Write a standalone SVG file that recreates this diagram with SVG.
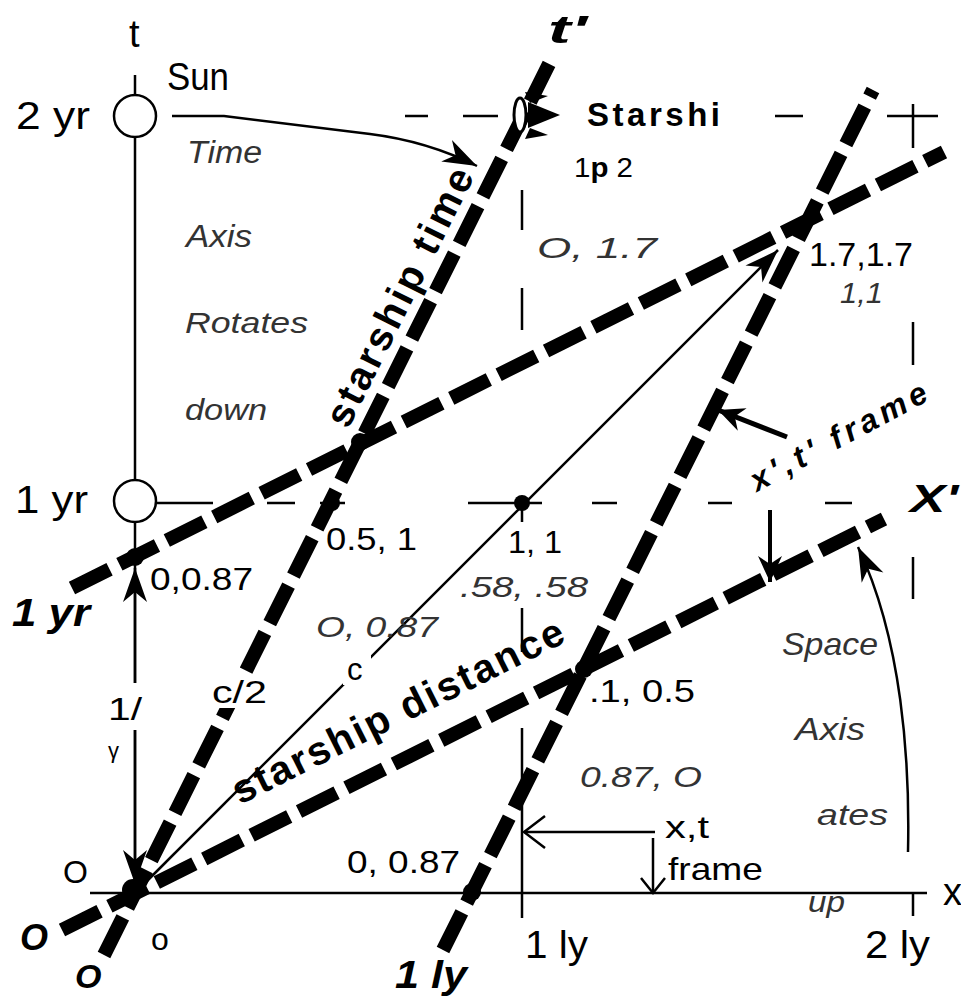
<svg xmlns="http://www.w3.org/2000/svg" width="961" height="997" viewBox="0 0 961 997">
<style>
text{font-family:"Liberation Sans",Arial,sans-serif;fill:#000}
.it{font-style:italic;fill:#333}
.bi{font-style:italic;font-weight:bold}
.b{font-weight:bold}
.heavy{stroke:#000;stroke-width:14;stroke-dasharray:42 11;fill:none}
.thin{stroke:#000;stroke-width:2.5;fill:none}
.tk{stroke:#000;stroke-width:2.5}
.bg{fill:#fff}
</style>
<defs>
<marker id="st" viewBox="-36 -14 38 28" refX="0" refY="0" markerWidth="38" markerHeight="28" markerUnits="userSpaceOnUse" orient="auto"><path d="M0,0 L-34,-12 L-24,0 L-34,12 Z" fill="#000"/></marker>
<marker id="st2" viewBox="-28 -14 30 28" refX="0" refY="0" markerWidth="30" markerHeight="28" markerUnits="userSpaceOnUse" orient="auto"><path d="M0,0 L-26,-12 L-18,0 L-26,12 Z" fill="#000"/></marker>
<marker id="v" viewBox="-24 -19 26 38" refX="0" refY="0" markerWidth="26" markerHeight="38" markerUnits="userSpaceOnUse" orient="auto"><path d="M-21,-16 L0,0 L-21,16" fill="none" stroke="#000" stroke-width="2.5"/></marker>
<marker id="v2" viewBox="-18 -15 20 30" refX="0" refY="0" markerWidth="20" markerHeight="30" markerUnits="userSpaceOnUse" orient="auto"><path d="M-15,-12 L0,0 L-15,12" fill="none" stroke="#000" stroke-width="2.5"/></marker>
</defs>

<g id="grid">
<line class="tk" x1="90" y1="893" x2="927" y2="893"/>
<line class="tk" x1="135" y1="75" x2="135" y2="95"/>
<line class="tk" x1="135" y1="137" x2="135" y2="480"/>
<line class="tk" x1="135" y1="522" x2="135" y2="683"/>
<line class="tk" x1="135" y1="730" x2="135" y2="893"/>
<path class="tk" d="M405,116H428M463,116H498M775,116H803M887,116H938"/>
<path class="tk" d="M913,104V148M913,322V365M913,557V599M913,893V916"/>
<path class="tk" d="M522,190V230M522,288V330M522,503V522M522,608V652M522,728V918"/>
<path class="tk" d="M157,503H213M267,503H295M320,503H345M468,503H542M592,503H617M708,503H732M825,503H852"/>
</g>

<g id="connectors">
<line class="heavy" x1="104" y1="955" x2="553" y2="56"/>
<line class="heavy" x1="62" y1="930" x2="884" y2="519"/>
<line class="heavy" x1="72" y1="588" x2="944" y2="152"/>
<line class="heavy" x1="443" y1="950" x2="873" y2="90"/>
<line class="thin" x1="135" y1="893" x2="778" y2="250" marker-end="url(#st)"/>
<path class="thin" d="M172,116 L224,116 L370,134 C410,139 445,150 477,166" marker-end="url(#st)"/>
<line class="tk" x1="135" y1="683" x2="135" y2="568" marker-end="url(#st)"/>
<line class="tk" x1="135" y1="730" x2="135" y2="884" marker-end="url(#st)"/>
<line x1="787" y1="437" x2="718" y2="410" stroke="#000" stroke-width="5" marker-end="url(#st2)"/>
<line x1="770" y1="510" x2="770" y2="582" stroke="#000" stroke-width="4" marker-end="url(#st2)"/>
<path class="thin" d="M908,852 C910,760 902,640 858,547" marker-end="url(#st)"/>
<line class="tk" x1="655" y1="832" x2="524" y2="832" marker-end="url(#v)"/>
<line class="tk" x1="653" y1="838" x2="653" y2="893" marker-end="url(#v2)"/>
</g>

<g id="sun2">
<circle cx="135" cy="116" r="21" fill="#fff" stroke="#000" stroke-width="2.5"/>
</g>
<g id="sun1">
<circle cx="135" cy="501" r="21" fill="#fff" stroke="#000" stroke-width="2.5"/>
</g>
<g id="dots">
<circle cx="135" cy="557" r="9"/>
<circle cx="332" cy="503" r="8"/>
<circle cx="522" cy="503" r="8"/>
<circle cx="472" cy="892" r="9"/>
<circle cx="584" cy="669" r="9"/>
<circle cx="360" cy="442" r="9"/>
<circle cx="133" cy="890" r="11"/>
</g>
<g id="starship">
<path d="M525,92 L548,96 L530,103 Z" fill="#000"/>
<path d="M525,139 L548,135 L530,128 Z" fill="#000"/>
<path d="M560,115 L528,102 L528,128 Z" fill="#000"/>
<ellipse cx="520" cy="115" rx="6" ry="17" fill="#fff" stroke="#000" stroke-width="3"/>
</g>

<g id="labels">
<rect class="bg" x="209" y="676" width="62" height="32"/>
<rect class="bg" x="343" y="655" width="28" height="30"/>
<text x="129" y="47" font-size="38">t</text>
<text x="167" y="90" font-size="38" textLength="62" lengthAdjust="spacingAndGlyphs">Sun</text>
<text x="16" y="129" font-size="38" textLength="74" lengthAdjust="spacingAndGlyphs">2 yr</text>
<text class="it" x="187" y="163" font-size="31" textLength="75" lengthAdjust="spacingAndGlyphs">Time</text>
<text class="it" x="186" y="247" font-size="31" textLength="66" lengthAdjust="spacingAndGlyphs">Axis</text>
<text class="it" x="185" y="333" font-size="30" textLength="123" lengthAdjust="spacingAndGlyphs">Rotates</text>
<text class="it" x="185" y="420" font-size="30" textLength="82" lengthAdjust="spacingAndGlyphs">down</text>
<text class="bi" x="548" y="43" font-size="38" textLength="39" lengthAdjust="spacingAndGlyphs">t'</text>
<text class="b" x="587" y="126" font-size="33" textLength="133">Starshi</text>
<text x="574" y="177" font-size="28" textLength="59" lengthAdjust="spacingAndGlyphs">1<tspan font-weight="bold">p</tspan> 2</text>
<text class="it" x="537" y="258" font-size="30" textLength="120" lengthAdjust="spacingAndGlyphs">O, 1.7</text>
<text x="809" y="266" font-size="33" textLength="104" lengthAdjust="spacingAndGlyphs">1.7,1.7</text>
<text class="it" x="840" y="303" font-size="30" textLength="43" lengthAdjust="spacingAndGlyphs">1,1</text>
<text x="15" y="513" font-size="38" textLength="73" lengthAdjust="spacingAndGlyphs">1 yr</text>
<text x="326" y="550" font-size="31" textLength="91" lengthAdjust="spacingAndGlyphs">0.5, 1</text>
<text x="508" y="553" font-size="31" textLength="54" lengthAdjust="spacingAndGlyphs">1, 1</text>
<text class="it" x="460" y="597" font-size="30" textLength="128" lengthAdjust="spacingAndGlyphs">.58, .58</text>
<text x="150" y="590" font-size="31" textLength="103" lengthAdjust="spacingAndGlyphs">0,0.87</text>
<text class="bi" x="12" y="626" font-size="38" textLength="78" lengthAdjust="spacingAndGlyphs">1 yr</text>
<text class="it" x="316" y="637" font-size="30" textLength="122" lengthAdjust="spacingAndGlyphs">O, 0.87</text>
<text x="347" y="680" font-size="31">c</text>
<text x="212" y="703" font-size="31" textLength="55" lengthAdjust="spacingAndGlyphs">c/2</text>
<text x="108" y="720" font-size="31" textLength="34" lengthAdjust="spacingAndGlyphs">1/</text>
<text x="108" y="758" font-size="22">γ</text>
<text x="589" y="702" font-size="31" textLength="106" lengthAdjust="spacingAndGlyphs">.1, 0.5</text>
<text class="it" x="782" y="655" font-size="32" textLength="96" lengthAdjust="spacingAndGlyphs">Space</text>
<text class="it" x="795" y="740" font-size="31" textLength="70" lengthAdjust="spacingAndGlyphs">Axis</text>
<text class="it" x="580" y="787" font-size="30" textLength="122" lengthAdjust="spacingAndGlyphs">0.87, O</text>
<text class="it" x="817" y="825" font-size="30" textLength="71" lengthAdjust="spacingAndGlyphs">ates</text>
<text x="665" y="838" font-size="32" textLength="44" lengthAdjust="spacingAndGlyphs">x,t</text>
<text x="668" y="880" font-size="32" textLength="95" lengthAdjust="spacingAndGlyphs">frame</text>
<text class="it" x="808" y="912" font-size="30" textLength="37" lengthAdjust="spacingAndGlyphs">up</text>
<text x="943" y="905" font-size="38">x</text>
<text x="63" y="883" font-size="32">O</text>
<text x="151" y="950" font-size="32">o</text>
<text class="bi" x="20" y="950" font-size="36">O</text>
<text class="bi" x="75" y="988" font-size="34">O</text>
<text x="525" y="958" font-size="38" textLength="63" lengthAdjust="spacingAndGlyphs">1 ly</text>
<text x="865" y="958" font-size="38" textLength="65" lengthAdjust="spacingAndGlyphs">2 ly</text>
<text class="bi" x="395" y="988" font-size="38" textLength="72" lengthAdjust="spacingAndGlyphs">1 ly</text>
<text x="347" y="873" font-size="31" textLength="113" lengthAdjust="spacingAndGlyphs">0, 0.87</text>
<text class="bi" x="910" y="512" font-size="38" textLength="48" lengthAdjust="spacingAndGlyphs">X'</text>
<text class="b" transform="translate(348,430) rotate(-63.43)" font-size="40" textLength="284">starship time</text>
<text class="b" transform="translate(240,805) rotate(-26.57)" font-size="40" textLength="366">starship distance</text>
<text class="bi" transform="translate(757,492) rotate(-28)" font-size="32" textLength="196">x',t' frame</text>
</g>
</svg>
